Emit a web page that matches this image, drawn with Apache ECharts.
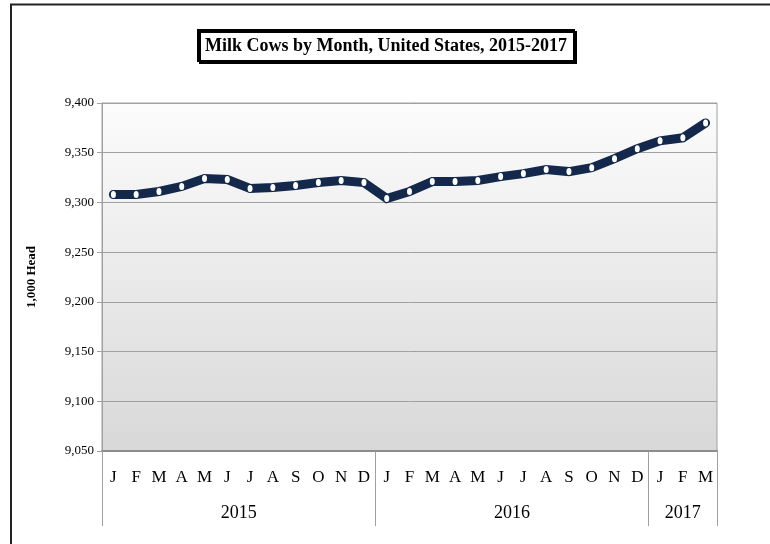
<!DOCTYPE html>
<html>
<head>
<meta charset="utf-8">
<script src="https://cdn.jsdelivr.net/npm/echarts@6/dist/echarts.min.js"></script>
<style>
html,body{margin:0;padding:0;background:#fff;}
#chart{width:770px;height:544px;}
</style>
</head>
<body>
<div id="chart"></div>
<script>
var titleText = 'Milk Cows by Month, United States, 2015-2017';
var yAxisName = '1,000 Head';
var months = ['J','F','M','A','M','J','J','A','S','O','N','D',
              'J','F','M','A','M','J','J','A','S','O','N','D',
              'J','F','M'];
var years = ['2015','2016','2017'];
var monthsPerYear = [12, 12, 3];
var milkCows = [9308, 9308, 9311, 9316, 9324, 9323, 9314, 9315, 9317, 9320, 9322, 9320,
                9304, 9311, 9321, 9321, 9322, 9326, 9329, 9333, 9331, 9335, 9344, 9354,
                9362, 9365, 9380];
var yMin = 9050, yMax = 9400, yStep = 50;

// year group boundaries and centers derived from month counts
var bounds = [0], centers = [];
monthsPerYear.forEach(function (n, i) {
  var s = bounds[bounds.length - 1];
  centers.push(s + n / 2);
  bounds.push(s + n);
});
var total = bounds[bounds.length - 1];

var serif = '"Liberation Serif", "Times New Roman", serif';
var chart = echarts.init(document.getElementById('chart'));
chart.setOption({
  animation: false,
  title: {
    text: titleText,
    left: 198,
    top: 30,
    padding: [7, 7, 6, 7],
    borderColor: '#000',
    borderWidth: 2,
    backgroundColor: '#fff',
    shadowColor: '#000',
    shadowOffsetX: 2,
    shadowOffsetY: 2,
    shadowBlur: 0,
    textStyle: { fontFamily: serif, fontWeight: 'bold', fontSize: 18, color: '#000' }
  },
  graphic: [{
    type: 'rect', silent: true, z: -1,
    shape: { x: 11, y: 4.5, width: 800, height: 600 },
    style: { fill: 'none', stroke: '#222', lineWidth: 2 }
  }],
  grid: {
    left: 102, right: 53, top: 103, bottom: 93,
    show: true,
    borderColor: '#a0a0a0', borderWidth: 1,
    backgroundColor: new echarts.graphic.LinearGradient(0, 0, 0, 1, [
      { offset: 0, color: '#fcfcfc' },
      { offset: 1, color: '#d8d8d8' }
    ])
  },
  xAxis: [{
    type: 'category',
    data: months,
    boundaryGap: true,
    axisLine: { show: true, lineStyle: { color: '#8c8c8c', width: 2 } },
    axisTick: { show: false },
    axisLabel: { interval: 0, margin: 18, fontFamily: serif, fontSize: 17, color: '#000' },
    splitLine: { show: false }
  }, {
    type: 'value',
    min: 0, max: total,
    position: 'bottom',
    axisLine: { show: false },
    splitLine: { show: false },
    axisTick: { show: true, inside: false, length: 75, customValues: bounds,
      lineStyle: { color: '#a0a0a0', width: 1 } },
    axisLabel: { show: true, margin: 53, customValues: centers,
      fontFamily: serif, fontSize: 18, color: '#000',
      formatter: function (v) {
        var i = centers.indexOf(v);
        return i >= 0 ? years[i] : '';
      } }
  }],
  yAxis: {
    type: 'value',
    min: yMin, max: yMax, interval: yStep,
    name: yAxisName,
    nameLocation: 'middle',
    nameRotate: 90,
    nameGap: 64,
    nameTextStyle: { fontFamily: serif, fontWeight: 'bold', fontSize: 13, color: '#000' },
    axisLine: { show: true, lineStyle: { color: '#a0a0a0', width: 1 } },
    axisTick: { show: true, length: 5, lineStyle: { color: '#a0a0a0' } },
    axisLabel: { margin: 8, fontFamily: serif, fontSize: 13, color: '#000',
      formatter: function (v) { return v.toLocaleString('en-US'); } },
    splitLine: { show: true, lineStyle: { color: '#a0a0a0', width: 1 } }
  },
  series: [{
    type: 'line',
    data: milkCows,
    xAxisIndex: 0,
    symbol: 'circle',
    symbolSize: [5, 7],
    showAllSymbol: true,
    itemStyle: { color: '#fff', borderWidth: 0 },
    lineStyle: { color: '#13284a', width: 9, join: 'miter', cap: 'round' }
  }]
});
</script>
</body>
</html>
